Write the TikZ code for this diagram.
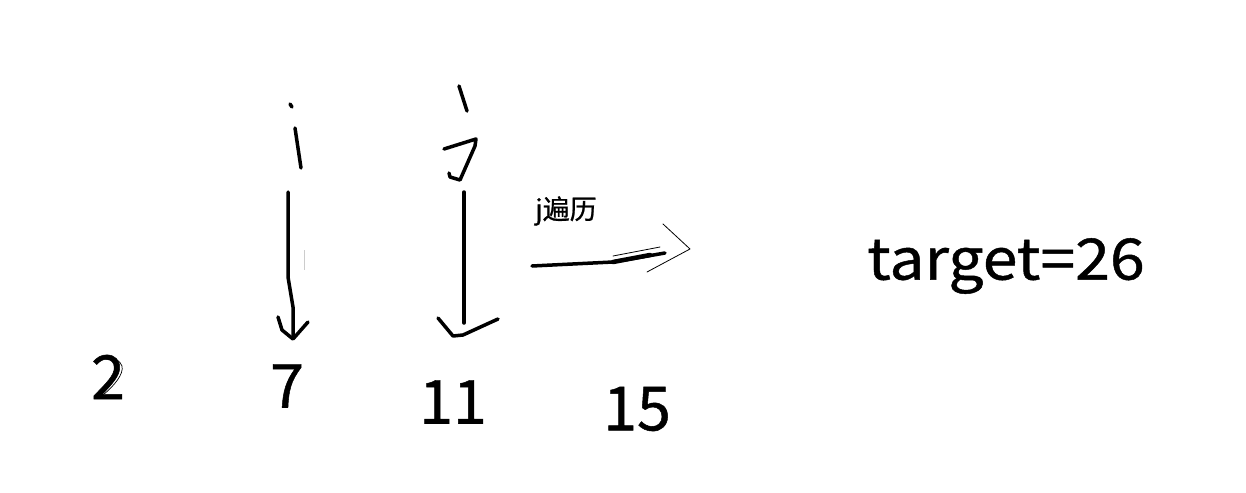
\documentclass[tikz,border=0pt]{standalone}
\usepackage{fontspec}
\setmainfont{Noto Sans CJK SC}[FakeBold=0.8]
\newfontfamily\tfont{Noto Sans CJK SC}[FakeBold=0.8,FakeStretch=1.1]
\begin{document}
\begin{tikzpicture}[x=1pt,y=-1pt,
  pen/.style={line width=3.5pt,line cap=round,line join=round,black},
  thinpen/.style={line width=1pt,line cap=round,line join=round,black},
  num/.style={inner sep=0pt,font=\fontsize{61}{61}\selectfont},
  lbl/.style={inner sep=0pt,font=\fontsize{27}{27}\selectfont}]
\useasboundingbox (0,0) rectangle (1246,492);
% numbers
\node[num] (n2) at (108,377) {2};
\node[num] (n7) at (287,386) {7};
\node[num] (n11) at (453,402) {11};
\node[num] (n15) at (637,409) {15};
\node[inner sep=0pt,font=\tfont\fontsize{57}{57}\selectfont] (tg) at (1006,266) {target=26};
\node[lbl] (jl) at (566,211) {j遍历};
% hand-drawn i
\draw[pen] (290,104) -- (292,107);
\draw[pen] (295,128) -- (301,168);
\draw[pen] (288,192) -- (288,277) -- (293,307) -- (293,338);
\draw[pen] (278,317) -- (282,330) -- (293,339) -- (308,322);
\draw[line width=1pt,gray!40] (304,250) -- (304,270);
% hand-drawn j
\draw[pen] (459,86) -- (467,111);
\draw[pen] (444,149) -- (476,139) -- (475,146) -- (460,180) -- (450,177) -- (449,173);
\draw[pen] (464,192) -- (464,323);
\draw[pen] (438,318) -- (453,336) -- (463,335) -- (498,319);
% arrow right
\draw[pen] (532,266) -- (613,262) -- (665,253);
\draw[line width=4.5pt,line cap=round] (613,262) -- (650,255);
\draw[thinpen,line width=0.8pt] (613,256) -- (660,247);
\draw[thinpen,line width=0.8pt] (663,224) -- (690,249) -- (647,272);
% hand overlay on the 2
\draw[thinpen,line width=0.7pt] (97,361) .. controls (104,355) and (118,356) .. (122,366) .. controls (124,374) and (114,386) .. (103,395);
\draw[thinpen,line width=0.6pt] (100,359) .. controls (110,358) and (119,362) .. (118,370) .. controls (117,378) and (110,386) .. (104,392);
\end{tikzpicture}
\end{document}
